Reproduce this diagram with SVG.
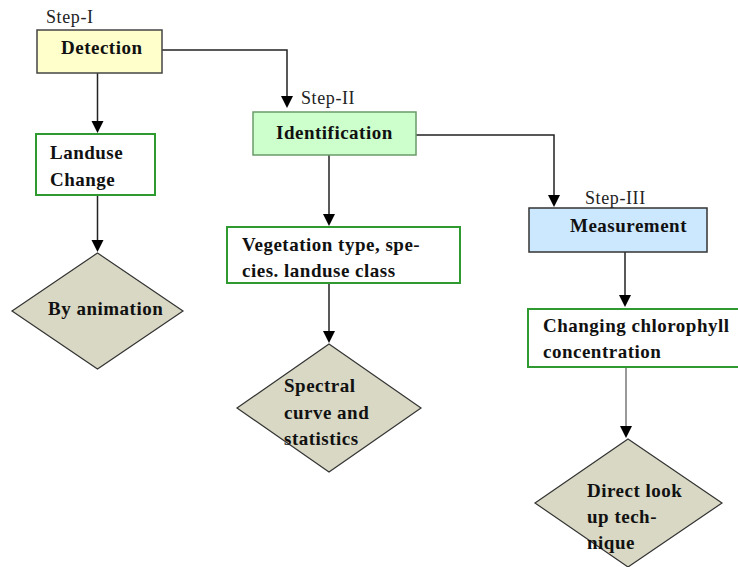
<svg xmlns="http://www.w3.org/2000/svg" width="738" height="567" viewBox="0 0 738 567">
<defs>
<style>
.t{font-family:"Liberation Serif","Times New Roman",serif;font-weight:bold;font-size:19px;letter-spacing:0.5px;fill:#111}
.s{font-family:"Liberation Serif","Times New Roman",serif;font-size:18px;letter-spacing:0.6px;fill:#222}
.box{fill:#fff;stroke:#2f9a2f;stroke-width:2}
.dia{fill:#d8d8c4;stroke:#333;stroke-width:1.2}
.c{fill:none;stroke:#222;stroke-width:1.5}
.h{fill:#000}
</style>
</defs>
<g id="connectors">
<path class="c" d="M162,50 H287 V98"/>
<path class="c" d="M416,135 H554 V197"/>
<path class="c" d="M97.5,73 V123"/>
<path class="c" d="M97.5,195 V242"/>
<path class="c" d="M329,155 V216"/>
<path class="c" d="M329,270 V333"/>
<path class="c" d="M625,252 V297"/>
<path class="c" d="M626,367 V428" style="stroke:#777"/>
<path class="h" d="M281,96 L293,96 L287,108 Z"/>
<path class="h" d="M548,195 L560,195 L554,207 Z"/>
<path class="h" d="M91.5,121 L103.5,121 L97.5,133 Z"/>
<path class="h" d="M91.5,240 L103.5,240 L97.5,252 Z"/>
<path class="h" d="M323,214 L335,214 L329,226 Z"/>
<path class="h" d="M323,331 L335,331 L329,343 Z"/>
<path class="h" d="M619,295 L631,295 L625,307 Z"/>
<path class="h" d="M620,426 L632,426 L626,438 Z"/>
</g>
<g id="step1">
<text class="s" x="46" y="23">Step-I</text>
<rect x="37" y="30" width="125" height="43" fill="#ffffcc" stroke="#444" stroke-width="1.5"/>
<text class="t" x="61" y="54">Detection</text>
</g>
<g id="landuse">
<rect class="box" x="36" y="134" width="119" height="61"/>
<text class="t" x="50" y="159">Landuse</text>
<text class="t" x="50" y="186">Change</text>
</g>
<g id="animation">
<polygon class="dia" points="97.5,253 183,311 97.5,369 12,311"/>
<text class="t" x="48" y="315">By animation</text>
</g>
<g id="step2">
<text class="s" x="301" y="104">Step-II</text>
<rect x="253" y="112" width="163" height="43" fill="#ccffcc" stroke="#6a9a6a" stroke-width="1.5"/>
<text class="t" x="276" y="139">Identification</text>
</g>
<g id="vegetation">
<rect class="box" x="227" y="227" width="233" height="56"/>
<text class="t" x="242" y="251">Vegetation type, spe-</text>
<text class="t" x="242" y="277">cies. landuse class</text>
</g>
<g id="spectral">
<polygon class="dia" points="329,344 421,408 329,472 237,408"/>
<text class="t" x="284" y="392">Spectral</text>
<text class="t" x="284" y="419">curve and</text>
<text class="t" x="284" y="445">statistics</text>
</g>
<g id="step3">
<text class="s" x="585" y="204">Step-III</text>
<rect x="529" y="208" width="178" height="44" fill="#cce8ff" stroke="#333" stroke-width="1.5"/>
<text class="t" x="570" y="232">Measurement</text>
</g>
<g id="chlorophyll">
<rect class="box" x="528" y="309" width="212" height="58"/>
<text class="t" x="543" y="332">Changing chlorophyll</text>
<text class="t" x="543" y="358">concentration</text>
</g>
<g id="lookup">
<polygon class="dia" points="628,439 722,503 628,567 535,503"/>
<text class="t" x="587" y="497">Direct look</text>
<text class="t" x="587" y="523">up tech-</text>
<text class="t" x="587" y="549">nique</text>
</g>
</svg>
